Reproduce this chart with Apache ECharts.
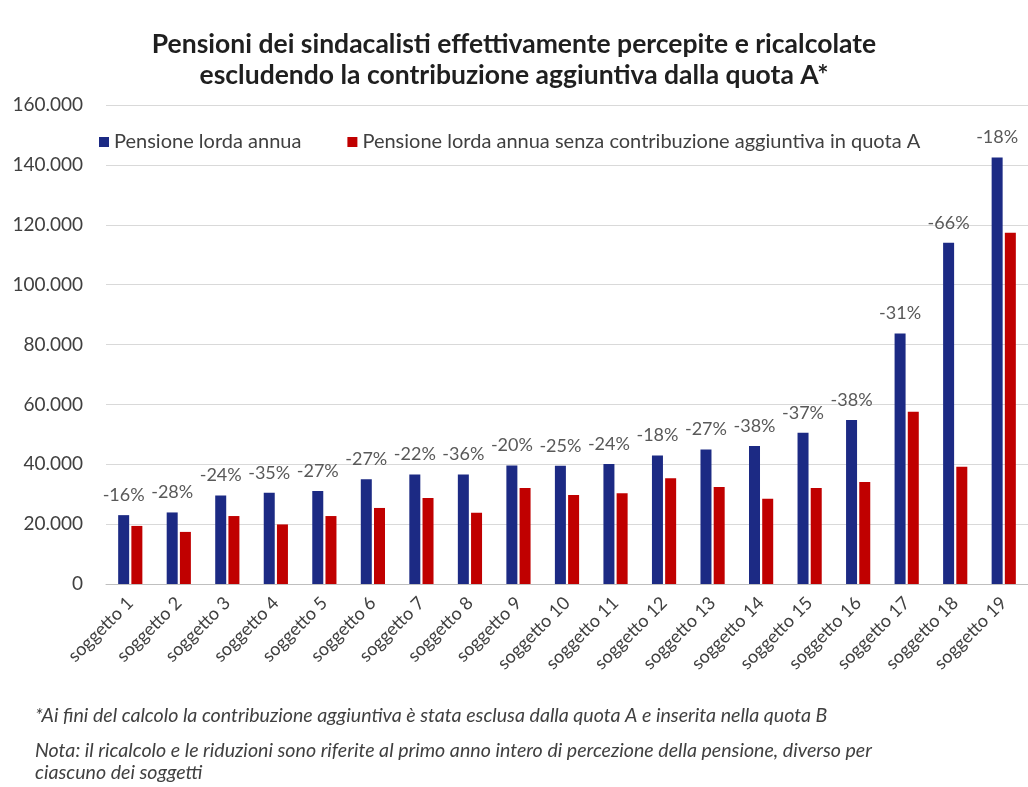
<!DOCTYPE html>
<html>
<head>
<meta charset="utf-8">
<script src="https://cdn.jsdelivr.net/npm/echarts@6/dist/echarts.min.js"></script>
<style>
html,body{margin:0;padding:0;background:#fff;}
#chart{width:1028px;height:787px;}
</style>
</head>
<body>
<div id="chart"></div>
<script>
const categories = ["soggetto 1","soggetto 2","soggetto 3","soggetto 4","soggetto 5","soggetto 6","soggetto 7","soggetto 8","soggetto 9","soggetto 10","soggetto 11","soggetto 12","soggetto 13","soggetto 14","soggetto 15","soggetto 16","soggetto 17","soggetto 18","soggetto 19"];
const pensioneLorda = [23000,23900,29600,30500,31100,35000,36600,36600,39600,39500,40100,42900,44900,46100,50500,54800,83700,114000,142500];
const pensioneSenza = [19400,17400,22700,19900,22700,25400,28700,23800,32100,29700,30300,35300,32400,28500,32100,34100,57500,39200,117300];
const riduzioni = ["-16%","-28%","-24%","-35%","-27%","-27%","-22%","-36%","-20%","-25%","-24%","-18%","-27%","-38%","-37%","-38%","-31%","-66%","-18%"];
const yTicks = {min:0, max:160000, interval:20000};
const seriesNames = ["Pensione lorda annua","Pensione lorda annua senza contribuzione aggiuntiva in quota A"];
const titleText = "Pensioni dei sindacalisti effettivamente percepite e ricalcolate\nescludendo la contribuzione aggiuntiva dalla quota A*";
const footnotes = ["*Ai fini del calcolo la contribuzione aggiuntiva è stata esclusa dalla quota A e inserita nella quota B",
  "Nota: il ricalcolo e le riduzioni sono riferite al primo anno intero di percezione della pensione, diverso per",
  "ciascuno dei soggetti"];

const FONT = 'Lato, "Open Sans", sans-serif';
const chart = echarts.init(document.getElementById('chart'), null, {renderer:'canvas'});
chart.setOption({
  backgroundColor:'#ffffff',
  animation:false,
  textStyle:{fontFamily:FONT},
  title:{
    text:titleText, left:'center', top:24,
    textStyle:{fontFamily:FONT, fontSize:26.5, fontWeight:'bold', color:'#1f1f1f', lineHeight:31}
  },
  legend:{
    top:127, left:94, itemWidth:10, itemHeight:10, itemGap:46,
    icon:'rect',
    textStyle:{fontFamily:FONT, fontSize:20, color:'#404040'},
    data:seriesNames
  },
  grid:{left:106, top:105, bottom:203, width:931, containLabel:false},
  xAxis:{
    type:'category', data:categories,
    axisLine:{lineStyle:{color:'#bfbfbf'}},
    axisTick:{show:false},
    axisLabel:{rotate:45, interval:0, margin:16, fontSize:18, color:'#404040', fontFamily:FONT}
  },
  yAxis:{
    type:'value', min:yTicks.min, max:yTicks.max, interval:yTicks.interval,
    axisLine:{show:false}, axisTick:{show:false},
    splitLine:{lineStyle:{color:'#d9d9d9'}},
    axisLabel:{margin:23, fontSize:19, color:'#404040', fontFamily:FONT,
      formatter:v=>v===0?'0':v.toLocaleString('it-IT').replace(/,/g,'.')}
  },
  series:[
    {name:seriesNames[0], type:'bar', data:pensioneLorda, barWidth:11, barGap:'20%',
     itemStyle:{color:'#1c2a84'},
     label:{show:true, position:'top', distance:11, fontSize:18, color:'#595959', fontFamily:FONT,
       formatter:p=>riduzioni[p.dataIndex]}},
    {name:seriesNames[1], type:'bar', data:pensioneSenza, barWidth:11, barGap:'20%',
     itemStyle:{color:'#c00000'}}
  ],
  graphic:[
    {type:'text', left:35, top:706, style:{text:footnotes[0], font:'italic 19.6px '+FONT, fill:'#404040'}},
    {type:'text', left:35, top:741, style:{text:footnotes[1], font:'italic 19.6px '+FONT, fill:'#404040'}},
    {type:'text', left:35, top:763, style:{text:footnotes[2], font:'italic 19.6px '+FONT, fill:'#404040'}}
  ]
});
</script>
</body>
</html>
